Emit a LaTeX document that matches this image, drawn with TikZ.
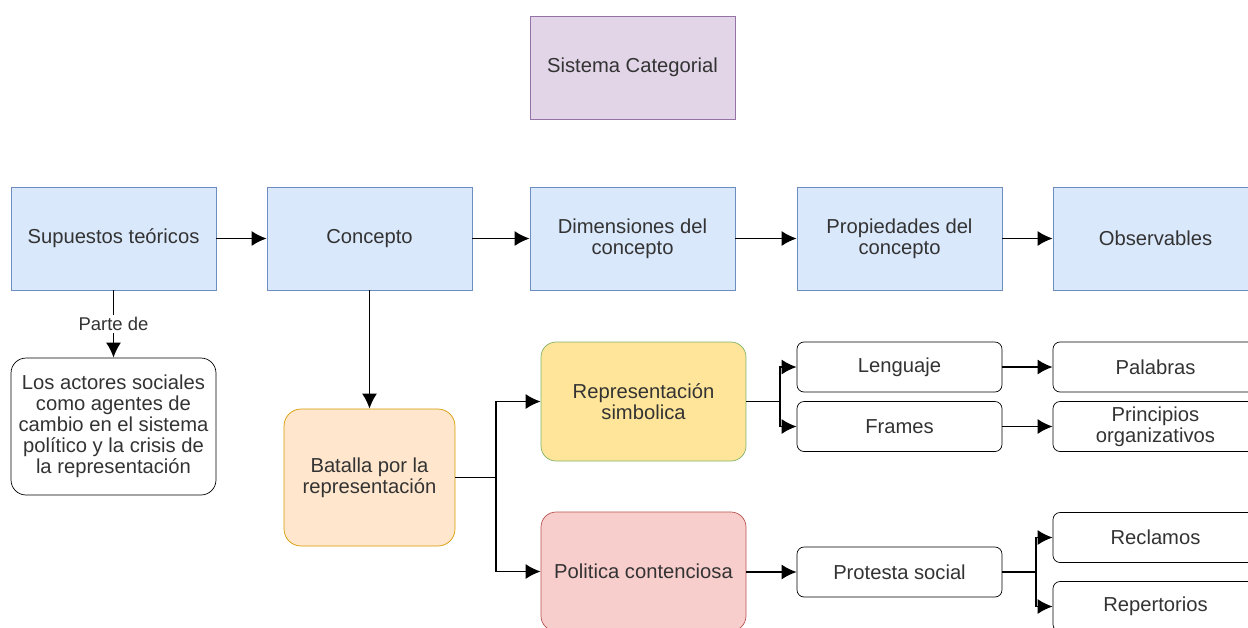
\documentclass[tikz,border=0pt]{standalone}
\usepackage{fontspec}
\setmainfont{Liberation Sans}
\usepackage{xcolor}
\usepackage{tikz}
\usetikzlibrary{arrows.meta}

\definecolor{azulF}{HTML}{DAE8FC}
\definecolor{azulB}{HTML}{6C8EBF}
\definecolor{lilaF}{HTML}{E1D5E7}
\definecolor{lilaB}{HTML}{9673A6}
\definecolor{naranjaF}{HTML}{FFE6CC}
\definecolor{naranjaB}{HTML}{D79B00}
\definecolor{amarilloF}{HTML}{FFE599}
\definecolor{verdeB}{HTML}{82B366}
\definecolor{rojoF}{HTML}{F8CECC}
\definecolor{rojoB}{HTML}{B85450}
\definecolor{texto}{HTML}{333333}

\begin{document}
\begin{tikzpicture}[x=0.02cm, y=-0.02cm,
        every node/.style={font=\fontsize{11.5}{12}\selectfont, text=texto, align=center, inner sep=2pt},
        caja/.style={draw, minimum width=4.1cm, minimum height=2.06cm},
        azul/.style={caja, fill=azulF, draw=azulB},
        hoja/.style={draw=black, rounded corners=0.14cm, minimum width=4.1cm, minimum height=1.0cm},
        arr/.style={-{Latex[length=3mm, width=3mm]}, line width=1pt}]
            \clip (0,0) rectangle (1248,627);
            \fill[white] (0,0) rectangle (1248,627);

            % Titulo
            \node[caja, fill=lilaF, draw=lilaB] (sistema) at (632.5,67.5) {Sistema Categorial};

            % Fila principal
            \node[azul] (supuestos) at (113.5,238.5) {Supuestos teóricos};
            \node[azul] (concepto) at (369.5,238.5) {Concepto};
            \node[azul] (dimensiones) at (632.5,238.5) {Dimensiones del\\concepto};
            \node[azul] (propiedades) at (899.5,238.5) {Propiedades del\\concepto};
            \node[azul] (observables) at (1155.5,238.5) {Observables};
            \draw[arr] (supuestos) -- (concepto);
            \draw[arr] (concepto) -- (dimensiones);
            \draw[arr] (dimensiones) -- (propiedades);
            \draw[arr] (propiedades) -- (observables);

            % Supuestos
            \node[draw=black, rounded corners=0.3cm, minimum width=4.1cm, minimum height=2.74cm] (actores) at (113.5,426.5)
                {Los actores sociales\\como agentes de\\cambio en el sistema\\político y la crisis de\\la representación};
            \draw[arr] (supuestos) -- node[fill=white, font=\fontsize{10.5}{12}\selectfont, inner sep=1pt] {Parte de} (actores);

            % Dimensiones
            \node[draw=naranjaB, fill=naranjaF, rounded corners=0.34cm, minimum width=3.42cm, minimum height=2.74cm] (batalla) at (369.5,477.5)
                {Batalla por la\\representación};
            \draw[arr] (concepto) -- (batalla);
            \node[draw=verdeB, fill=amarilloF, rounded corners=0.3cm, minimum width=4.1cm, minimum height=2.38cm] (simbolica) at (643.5,401.5)
                {Representación\\simbolica};
            \node[draw=rojoB, fill=rojoF, rounded corners=0.3cm, minimum width=4.1cm, minimum height=2.38cm] (contenciosa) at (643.5,571.5)
                {Politica contenciosa};
            \draw[arr] (batalla.east) -- ++(41,0) |- (simbolica.west);
            \draw[arr] (batalla.east) -- ++(41,0) |- (contenciosa.west);

            % Propiedades
            \node[hoja] (lenguaje) at (899.5,367) {Lenguaje};
            \node[hoja] (frames) at (899.5,426.5) {Frames};
            \node[hoja] (protesta) at (899.5,572) {Protesta social};
            \draw[arr] (simbolica.east) -- ++(34,0) |- (lenguaje.west);
            \draw[arr] (simbolica.east) -- ++(34,0) |- (frames.west);
            \draw[arr] (contenciosa.east |- protesta.west) -- (protesta.west);

            % Observables
            \node[hoja] (palabras) at (1155.5,367) {Palabras};
            \node[hoja] (principios) at (1155.5,426.5) {Principios\\organizativos};
            \node[hoja] (reclamos) at (1155.5,537.5) {Reclamos};
            \node[hoja] (repertorios) at (1155.5,606.5) {Repertorios};
            \draw[arr] (lenguaje) -- (palabras);
            \draw[arr] (frames) -- (principios);
            \draw[arr] (protesta.east) -- ++(34,0) |- (reclamos.west);
            \draw[arr] (protesta.east) -- ++(34,0) |- (repertorios.west);
        \end{tikzpicture}
\end{document}
